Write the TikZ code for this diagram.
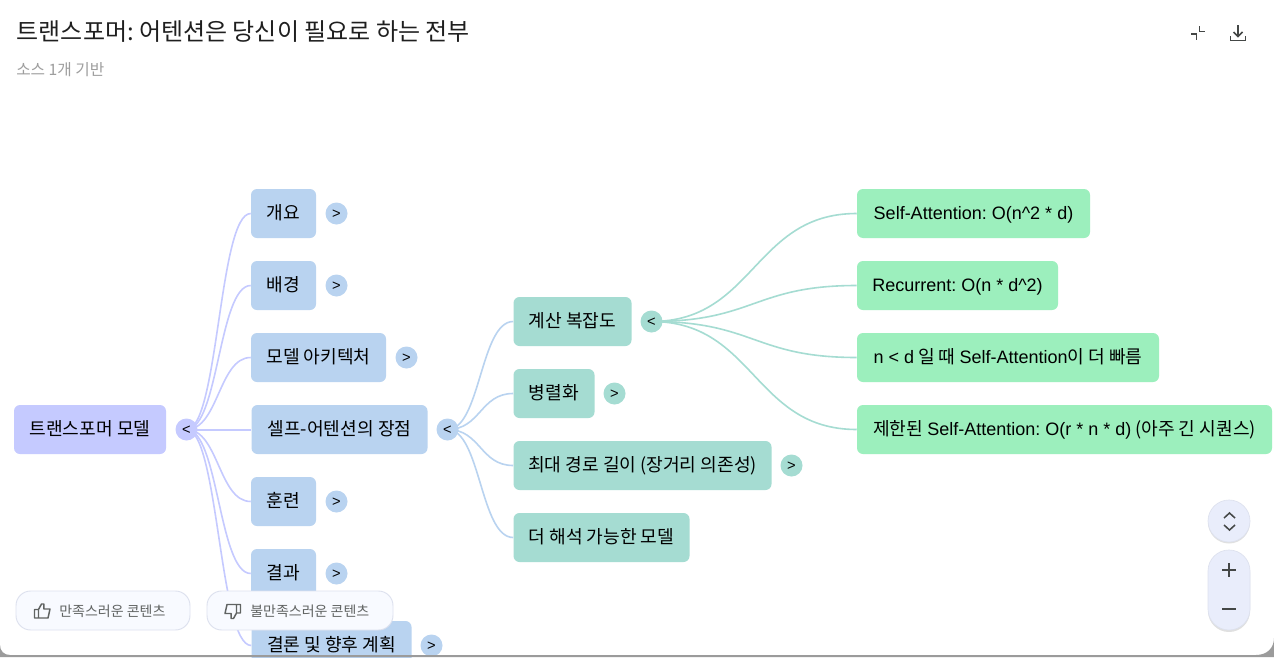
\documentclass[tikz,border=0pt]{standalone}
\usepackage{fontspec}
\setmainfont{Noto Sans CJK KR}
\newfontfamily\latinf{Liberation Sans}
\newcommand{\lt}[1]{{\latinf\fontsize{13.5}{16}\selectfont #1}}
\usetikzlibrary{backgrounds}
\frenchspacing
\definecolor{rootc}{HTML}{C5CAFF}
\definecolor{lonec}{HTML}{B9D3F0}
\definecolor{ltwoc}{HTML}{A5DCD2}
\definecolor{lthreec}{HTML}{9CEFBD}
\definecolor{ctrlc}{HTML}{E9EDFB}
\definecolor{btnc}{HTML}{F8FAFF}
\definecolor{btnb}{HTML}{DDE1EE}
\definecolor{iconc}{HTML}{444746}
\definecolor{framec}{HTML}{9B9B9B}
\tikzset{
  wpx/.style={minimum width=#1*0.75pt},
  box/.style={rounded corners=4.5pt,inner sep=0pt,minimum height=36.75pt,font=\fontsize{13.6}{16}\selectfont,text=black,align=center,text height=12.6pt,text depth=4pt},
  rootbox/.style={box,fill=rootc},
  oneb/.style={box,fill=lonec},
  twob/.style={box,fill=ltwoc},
  threeb/.style={box,fill=lthreec},
  tog/.style={circle,inner sep=0pt,minimum size=16.5pt,font=\latinf\fontsize{11}{12}\selectfont,text=black,text height=7.5pt,text depth=0pt},
  rootlnk/.style={draw=rootc,line width=1.2pt},
  onelnk/.style={draw=lonec,line width=1.2pt},
  twolnk/.style={draw=ltwoc,line width=1.2pt},
  btn/.style={rounded corners=11pt,draw=btnb,fill=btnc,line width=0.7pt,inner sep=0pt,minimum height=29.25pt},
  btntxt/.style={font=\fontsize{10.5}{12}\selectfont,text=iconc!85!white,inner sep=0pt,anchor=west},
  ico/.style={draw=iconc,line width=1.15pt},
  thumb/.style={draw=iconc!85!white,line width=1.1pt,line join=round},
}
\begin{document}
\begin{tikzpicture}[x=0.75pt,y=-0.75pt]
\useasboundingbox (0,0) rectangle (1274,657);
% nodes
\node[rootbox,wpx=152] (root) at (90,429.5) {트랜스포머 모델};
\node[tog,fill=rootc] (rootT) at (186.5,429.5) {<};
\node[oneb,wpx=65] (a1) at (283.5,213.5) {개요};
\node[tog,fill=lonec] (a1T) at (336.5,213.5) {>};
\node[oneb,wpx=65] (a2) at (283.5,285.5) {배경};
\node[tog,fill=lonec] (a2T) at (336.5,285.5) {>};
\node[oneb,wpx=135] (a3) at (318.5,357.5) {모델 아키텍처};
\node[tog,fill=lonec] (a3T) at (406.5,357.5) {>};
\node[oneb,wpx=176] (a4) at (339.5,429.5) {셀프-어텐션의 장점};
\node[tog,fill=lonec] (a4T) at (447.5,429.5) {<};
\node[oneb,wpx=65] (a5) at (283.5,501.5) {훈련};
\node[tog,fill=lonec] (a5T) at (336.5,501.5) {>};
\node[oneb,wpx=65] (a6) at (283.5,573.5) {결과};
\node[tog,fill=lonec] (a6T) at (336.5,573.5) {>};
\node[oneb,wpx=160] (a7) at (331.5,645.5) {결론 및 향후 계획};
\node[tog,fill=lonec] (a7T) at (431.5,645.5) {>};
\node[twob,wpx=118] (b1) at (572.5,321.5) {계산 복잡도};
\node[tog,fill=ltwoc] (b1T) at (651.5,321.5) {<};
\node[twob,wpx=81] (b2) at (554,393.5) {병렬화};
\node[tog,fill=ltwoc] (b2T) at (614.5,393.5) {>};
\node[twob,wpx=258] (b3) at (642.5,465.5) {최대 경로 길이 (장거리 의존성)};
\node[tog,fill=ltwoc] (b3T) at (791.5,465.5) {>};
\node[twob,wpx=176] (b4) at (601.5,537.5) {더 해석 가능한 모델};
\node[threeb,wpx=233] (c1) at (973.5,213.5) {\lt{Self-Attention: O(n\^{}2 * d)}};
\node[threeb,wpx=201] (c2) at (957.5,285.5) {\lt{Recurrent: O(n * d\^{}2)}};
\node[threeb,wpx=302] (c3) at (1008,357.5) {\lt{n < d} 일 때 \lt{Self-Attention}이 더 빠름};
\node[threeb,wpx=415] (c4) at (1064.5,429.5) {제한된 \lt{Self-Attention: O(r * n * d)} (아주 긴 시퀀스)};
% panel and connectors behind the nodes
\begin{pgfonlayer}{background}
\fill[white] (0,0) rectangle (1274,657);
\foreach \t in {a1,a2,a3,a5,a6,a7}
  \draw[rootlnk] (rootT.center) .. controls +(32,0) and +(-32,0) .. (\t.west);
\draw[rootlnk,line width=1.5pt] ([yshift=-0.375pt]rootT.center) -- ([yshift=-0.375pt]a4.west);
\foreach \t in {b1,b2,b3,b4}
  \draw[onelnk] (a4T.center) .. controls +(33,0) and +(-33,0) .. (\t.west);
\foreach \t in {c1,c2,c3,c4}
  \draw[twolnk] (b1T.center) .. controls +(103,0) and +(-103,0) .. (\t.west);
\end{pgfonlayer}
% window frame at the bottom
\fill[framec] (0,645) .. controls (0,651) and (4,655) .. (10,655) -- (1256,655) .. controls (1267,655) and (1274,648) .. (1274,638) -- (1274,657) -- (0,657) -- cycle;
% title
\node[font=\fontsize{18}{22}\selectfont,text=black!88,inner sep=0pt,anchor=west] (title) at (16.5,32) {트랜스포머: 어텐션은 당신이 필요로 하는 전부};
\node[font=\fontsize{11.8}{14}\selectfont,text=black!38,inner sep=0pt,anchor=west] (sub) at (16,69.5) {소스 1개 기반};
% collapse and download icons
\draw[ico] (1191,34) -- (1196.5,34) -- (1196.5,39.5);
\draw[ico] (1199.5,26) -- (1199.5,31.5) -- (1205,31.5);
\draw[ico] (1238,25) -- (1238,36.5);
\draw[ico] (1233.5,32) -- (1238,36.5) -- (1242.5,32);
\draw[ico] (1230.5,36) -- (1230.5,40.5) -- (1245.5,40.5) -- (1245.5,36);
% feedback buttons
\node[btn,wpx=174] (up) at (103,610.5) {};
\node[btn,wpx=186] (down) at (300,610.5) {};
\node[btntxt] (upT) at (59,611.5) {만족스러운 콘텐츠};
\node[btntxt] (downT) at (250,611.5) {불만족스러운 콘텐츠};
\draw[thumb] (34.5,609.5) rectangle (38.5,618) (38.5,609.5) -- (41.5,604) -- (43.8,604) -- (43.8,609) -- (50,609) -- (48,618) -- (38.5,618);
\draw[thumb] (240.5,613) rectangle (236.5,604.5) (236.5,613) -- (233.5,618.5) -- (231.2,618.5) -- (231.2,613.5) -- (225,613.5) -- (227,604.5) -- (236.5,604.5);
% zoom controls
\fill[black,opacity=.12] (1229,522.5) circle[radius=21];
\fill[black,opacity=.12,rounded corners=15.7pt] (1208,551.5) rectangle (1250,632);
\node[circle,fill=ctrlc,draw=btnb,line width=0.5pt,minimum size=31.5pt,inner sep=0pt] (fit) at (1229,521) {};
\fill[ctrlc,draw=btnb,line width=0.5pt,rounded corners=15.7pt] (1208,550) rectangle (1250,630);
\draw[ico] (1224,518) -- (1229.5,513) -- (1235,518);
\draw[ico] (1224,525) -- (1229.5,530) -- (1235,525);
\draw[ico,line width=1.4pt] (1222,570) -- (1236,570) (1229,563) -- (1229,577);
\draw[ico,line width=1.5pt] (1222,609) -- (1236,609);
\end{tikzpicture}
\end{document}
